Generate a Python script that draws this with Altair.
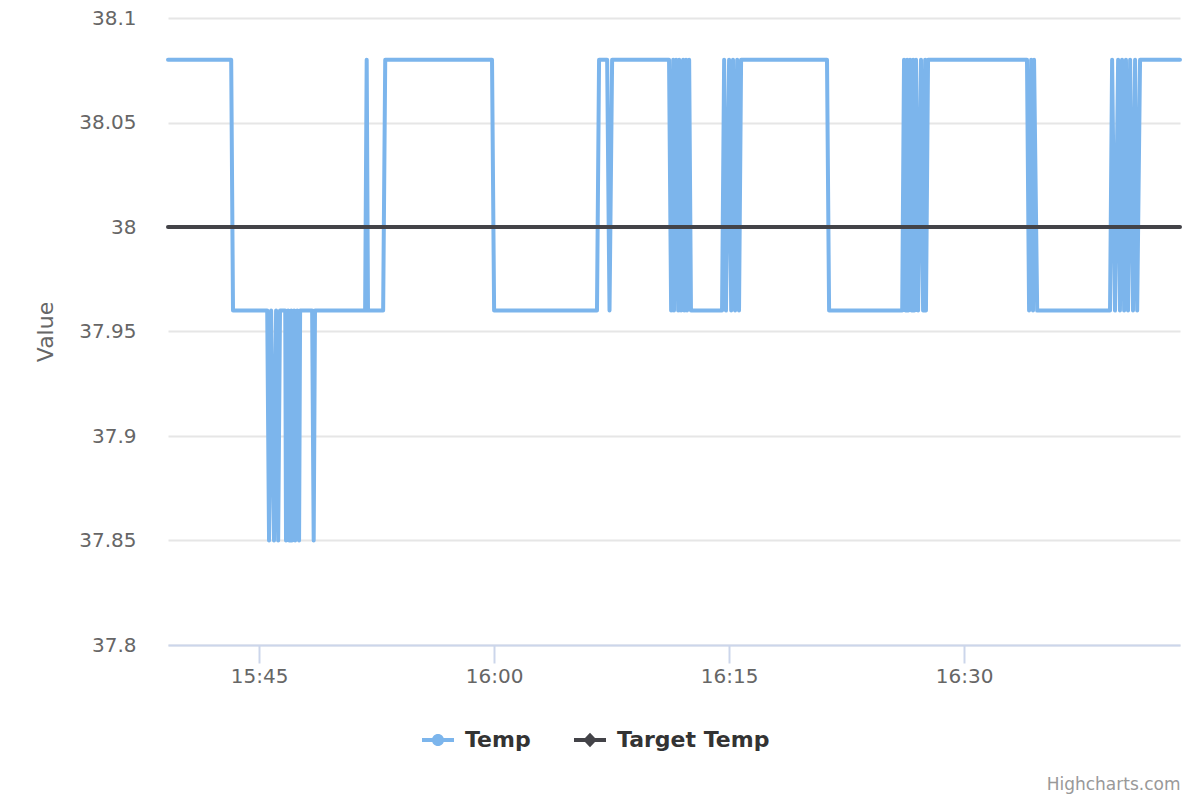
import altair as alt
import pandas as pd

DATE = "2020-01-01"

series_names = ["Temp", "Target Temp"]
series_colors = ["#7cb5ec", "#434348"]

temp_times = [
    "15:39:11", "15:43:13", "15:43:20", "15:45:31", "15:45:38", "15:45:46",
    "15:45:57", "15:46:05", "15:46:13", "15:46:20", "15:46:40", "15:46:43",
    "15:46:51", "15:46:55", "15:47:03", "15:47:06", "15:47:14", "15:47:18",
    "15:47:26", "15:47:33", "15:47:37", "15:48:23", "15:48:29", "15:48:34",
    "15:51:46", "15:51:52", "15:51:57", "15:52:55", "15:53:03", "15:59:52",
    "16:00:00", "16:06:34", "16:06:42", "16:07:13", "16:07:22", "16:07:32",
    "16:11:10", "16:11:18", "16:11:26", "16:11:29", "16:11:37", "16:11:45",
    "16:11:49", "16:11:56", "16:12:04", "16:12:08", "16:12:15", "16:12:19",
    "16:12:27", "16:12:34", "16:14:33", "16:14:41", "16:14:48", "16:15:00",
    "16:15:08", "16:15:15", "16:15:23", "16:15:31", "16:15:38", "16:15:46",
    "16:21:15", "16:21:23", "16:26:03", "16:26:10", "16:26:16", "16:26:22",
    "16:26:27", "16:26:33", "16:26:39", "16:26:45", "16:26:50", "16:26:56",
    "16:27:04", "16:27:15", "16:27:23", "16:27:31", "16:27:34", "16:27:42",
    "16:34:01", "16:34:09", "16:34:17", "16:34:24", "16:34:28", "16:34:40",
    "16:39:19", "16:39:27", "16:39:38", "16:39:50", "16:39:57", "16:40:05",
    "16:40:13", "16:40:20", "16:40:28", "16:40:36", "16:40:47", "16:40:55",
    "16:41:03", "16:41:14", "16:43:47",
]
temp_values = [
    38.08, 38.08, 37.96, 37.96, 37.85, 37.96,
    37.85, 37.96, 37.85, 37.96, 37.96, 37.85,
    37.96, 37.85, 37.96, 37.85, 37.96, 37.85,
    37.96, 37.85, 37.96, 37.96, 37.85, 37.96,
    37.96, 38.08, 37.96, 37.96, 38.08, 38.08,
    37.96, 37.96, 38.08, 38.08, 37.96, 38.08,
    38.08, 37.96, 38.08, 37.96, 38.08, 37.96,
    38.08, 37.96, 38.08, 37.96, 38.08, 37.96,
    38.08, 37.96, 37.96, 38.08, 37.96, 38.08,
    37.96, 38.08, 37.96, 38.08, 37.96, 38.08,
    38.08, 37.96, 37.96, 38.08, 37.96, 38.08,
    37.96, 38.08, 37.96, 38.08, 37.96, 38.08,
    37.96, 38.08, 37.96, 38.08, 37.96, 38.08,
    38.08, 37.96, 38.08, 37.96, 38.08, 37.96,
    37.96, 38.08, 37.96, 38.08, 37.96, 38.08,
    37.96, 38.08, 37.96, 38.08, 37.96, 38.08,
    37.96, 38.08, 38.08,
]

target_times = ["15:39:11", "16:43:47"]
target_values = [38.0, 38.0]

y_ticks = [37.8, 37.85, 37.9, 37.95, 38.0, 38.05, 38.1]
x_tick_labels = ["15:45", "16:00", "16:15", "16:30"]
credit_text = "Highcharts.com"

temp_df = pd.DataFrame({
    "time": [f"{DATE}T{t}Z" for t in temp_times],
    "value": temp_values,
    "series": series_names[0],
})
target_df = pd.DataFrame({
    "time": [f"{DATE}T{t}Z" for t in target_times],
    "value": target_values,
    "series": series_names[1],
})
legend_df = pd.DataFrame({
    "time": [f"{DATE}T{target_times[0]}Z"] * 2,
    "value": [target_values[0]] * 2,
    "series": series_names,
})

x_ticks = [
    alt.DateTime(year=2020, month=1, date=1, hours=int(s.split(":")[0]),
                 minutes=int(s.split(":")[1]), utc=True)
    for s in x_tick_labels
]

FONT = "DejaVu Sans"

x_enc = alt.X(
    "time:T",
    scale=alt.Scale(type="utc", nice=False),
    axis=alt.Axis(
        values=x_ticks, labelExpr="utcFormat(datum.value, '%H:%M')",
        grid=False,
        domainColor="#ccd6eb", domainWidth=2, tickColor="#ccd6eb", tickWidth=2,
        tickSize=18, labelFontSize=20, labelColor="#666666", labelPadding=3,
        labelFont=FONT,
        # credit line rendered as the (otherwise absent) x-axis title
        title=credit_text, titleFontSize=17, titleFontWeight="normal",
        titleColor="#999999", titleFont=FONT, titleX=1012, titleY=144,
        titleAlign="right", titleBaseline="alphabetic",
    ),
)
y_enc = alt.Y(
    "value:Q",
    scale=alt.Scale(domain=[37.8, 38.1], nice=False, zero=False),
    axis=alt.Axis(
        values=y_ticks, format="~g", title="Value", titleFontSize=22,
        titleColor="#666666", titleFontWeight="normal", titleFont=FONT,
        titleAngle=-90, titleX=-116, titleY=313.5, titleAlign="center",
        titleBaseline="alphabetic", grid=True, gridColor="#e6e6e6", gridWidth=2,
        domain=False, ticks=False, tickSize=0, labelPadding=32,
        labelFontSize=20, labelColor="#666666", labelFont=FONT,
    ),
)

circle_path = ("M-1,-0.125H1V0.125H-1Z "
               "M0.38,0A0.38,0.38 0 1,1 -0.38,0A0.38,0.38 0 1,1 0.38,0Z")
diamond_path = "M-1,-0.125H1V0.125H-1Z M0,-0.46L0.43,0L0,0.46L-0.43,0Z"

legend = alt.Legend(
    title=None, orient="none", legendX=254, legendY=706, direction="horizontal",
    symbolSize=1024, labelFontSize=22, labelFontWeight="bold",
    labelColor="#333333", labelFont=FONT, labelOffset=11, columnPadding=43,
    padding=0, symbolOpacity=1, symbolStrokeWidth=0,
)

color_scale = alt.Scale(domain=series_names, range=series_colors)

temp_line = alt.Chart(temp_df).mark_line(
    color=series_colors[0], strokeWidth=4, strokeJoin="round", strokeCap="round"
).encode(x=x_enc, y=y_enc, detail="series:N")

target_line = alt.Chart(target_df).mark_line(
    color=series_colors[1], strokeWidth=4, strokeJoin="round", strokeCap="round"
).encode(x=x_enc, y=y_enc, detail="series:N")

# legend carrier: invisible points; legend symbols forced opaque
legend_layer = alt.Chart(legend_df).mark_point(
    filled=True, size=1024, opacity=0
).encode(
    x=x_enc, y=y_enc,
    fill=alt.Fill("series:N", scale=color_scale, legend=legend),
    shape=alt.Shape("series:N",
                    scale=alt.Scale(domain=series_names,
                                    range=[circle_path, diamond_path]),
                    legend=legend),
)

chart = alt.layer(temp_line, target_line, legend_layer).properties(
    width=1012,
    height=627,
    padding={"left": 160, "top": 10, "right": 12, "bottom": 150},
    autosize=alt.AutoSizeParams(type="none"),
).configure(font=FONT, background="white").configure_view(stroke=None)

chart.save("out.html", embed_options={"renderer": "svg", "actions": False})
